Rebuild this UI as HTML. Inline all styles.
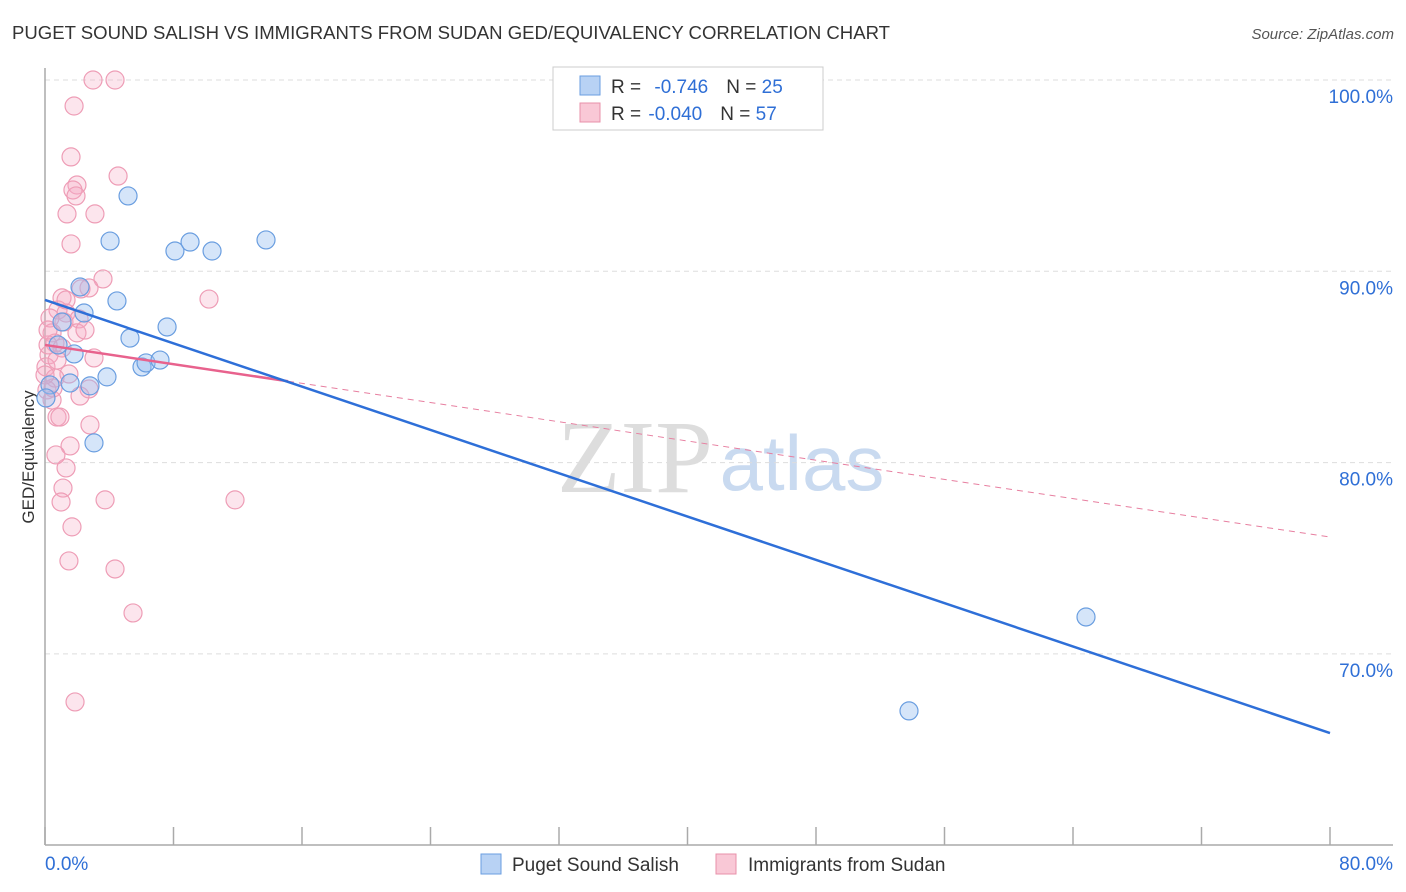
<!DOCTYPE html>
<html><head><meta charset="utf-8"><style>
body{margin:0;background:#fff;font-family:"Liberation Sans",sans-serif;}
#wrap{position:relative;width:1406px;height:892px;overflow:hidden;}
</style></head><body>
<div id="wrap">
<svg id="svg" width="1406" height="892" xmlns="http://www.w3.org/2000/svg">
<text x="12" y="39" font-size="18" fill="#333" textLength="878" lengthAdjust="spacingAndGlyphs">PUGET SOUND SALISH VS IMMIGRANTS FROM SUDAN GED/EQUIVALENCY CORRELATION CHART</text>
<text x="1394" y="39" font-size="15" fill="#555" font-style="italic" text-anchor="end">Source: ZipAtlas.com</text>
<text x="635" y="492" font-size="104" fill="#ddd" font-family="Liberation Serif" text-anchor="middle">ZIP</text>
<text x="802" y="490" font-size="78" fill="#c9daf0" text-anchor="middle">atlas</text>
<text transform="translate(34,457) rotate(-90)" font-size="17" fill="#333" text-anchor="middle">GED/Equivalency</text>
<g id="grid"></g><g id="axes"></g><g id="marks"></g>
<g>
<rect x="553" y="67" width="270" height="63" fill="#fff" stroke="#ccc"/>
<rect x="580" y="76" width="20" height="19" fill="#b8d2f4" stroke="#6a9ee0"/>
<text x="611" y="93" font-size="19" fill="#333">R = <tspan fill="#2f6fd6" dx="8">-0.746</tspan><tspan dx="18" fill="#333">N = </tspan><tspan fill="#2f6fd6">25</tspan></text>
<rect x="580" y="103" width="20" height="19" fill="#f9c8d6" stroke="#e890aa"/>
<text x="611" y="120" font-size="19" fill="#333">R = <tspan fill="#2f6fd6" dx="2">-0.040</tspan><tspan dx="18" fill="#333">N = </tspan><tspan fill="#2f6fd6">57</tspan></text>
</g>
<g>
<rect x="481" y="854" width="20" height="20" fill="#b8d2f4" stroke="#6a9ee0"/>
<text x="512" y="871" font-size="19" fill="#333">Puget Sound Salish</text>
<rect x="716" y="854" width="20" height="20" fill="#f9c8d6" stroke="#e890aa"/>
<text x="748" y="871" font-size="19" fill="#333">Immigrants from Sudan</text>
</g>
</svg>
</div>
<script>
const blueX=[5.17,4.05,8.09,9.03,10.40,13.76,2.18,4.48,2.43,7.60,5.29,0.81,1.81,6.04,6.29,7.16,3.86,1.56,2.80,3.05,64.81,53.79,0.31,0.06,1.06];
const blueY=[93.94,91.58,91.06,91.53,91.06,91.64,89.18,88.45,87.82,87.09,86.51,86.15,85.68,85.00,85.21,85.36,84.48,84.16,84.01,81.03,71.93,67.02,84.06,83.38,87.35];
const pinkX=[2.99,4.36,1.81,1.62,4.55,1.99,1.74,1.93,1.37,3.11,1.62,3.61,2.74,2.24,10.21,1.06,0.81,1.31,1.18,0.31,2.12,1.99,0.44,0.62,0.25,0.06,3.05,1.49,0.62,0.12,2.74,2.18,0.44,0.75,0.93,2.80,1.56,1.31,0.68,1.12,3.74,11.83,1.00,1.68,1.49,4.36,5.48,1.87,0.19,0.50,2.49,1.06,0.19,0.75,1.31,0];
const pinkY=[100,100,98.64,95.98,94.98,94.51,94.25,93.94,93.00,93.00,91.43,89.60,89.13,89.08,88.55,88.61,87.98,87.82,87.35,87.56,87.51,86.78,86.78,86.25,85.63,85.00,85.47,84.63,84.42,83.80,83.85,83.48,83.27,82.38,82.38,81.97,80.87,79.72,80.40,78.67,78.05,78.05,77.94,76.64,74.86,74.44,72.14,67.49,86.15,83.90,86.93,85.99,86.93,85.36,88.50,84.58];
const yTicks=[100,90,80,70];
const xTickLabels=["0.0%","80.0%"];
const blueTrend=[88.50,65.86];
const pinkTrend=[86.15,76.11];
const pinkSolidEnd=15.13;

const X=v=>45+v/80*1285;
const Y=v=>80+(100-v)*19.13;
const NS="http://www.w3.org/2000/svg";
function mk(tag,attrs,parent){const e=document.createElementNS(NS,tag);for(const k in attrs)e.setAttribute(k,attrs[k]);parent.appendChild(e);return e;}
const grid=document.getElementById('grid'),axes=document.getElementById('axes'),marks=document.getElementById('marks');
yTicks.forEach(t=>{
  const l=mk('line',{x1:45,x2:1393,y1:Y(t),y2:Y(t),stroke:'#ddd','stroke-dasharray':'5,4'},grid);
  
  
  const tx=mk('text',{x:1393,y:Y(t)+23,'font-size':19,fill:'#2f6fd6','text-anchor':'end'},grid);
  tx.textContent=t.toFixed(1)+'%';
  
  
});
const ya=mk('line',{x1:45,x2:45,y1:68,y2:845,stroke:'#aaa','stroke-width':1.5},axes);


const xa=mk('line',{x1:45,x2:1393,y1:845,y2:845,stroke:'#aaa','stroke-width':1.5},axes);


for(let i=0;i<=10;i++){
  const t=mk('line',{x1:X(i*8),x2:X(i*8),y1:827,y2:845,stroke:'#aaa','stroke-width':1.5},axes);
  
  
}
[[0,'start',45],[80,'end',1393]].forEach((a,i)=>{
  const t=mk('text',{x:a[2],y:870,'font-size':19,fill:'#2f6fd6','text-anchor':a[1]},axes);
  t.textContent=xTickLabels[i];
  
  
});
for(let i=0;i<pinkX.length;i++){
  const c=mk('circle',{cx:X(pinkX[i]),cy:Y(pinkY[i]),r:9,fill:'rgba(245,170,195,0.3)',stroke:'#ee9db6','stroke-width':1.2},marks);
  
  
}
for(let i=0;i<blueX.length;i++){
  const c=mk('circle',{cx:X(blueX[i]),cy:Y(blueY[i]),r:9,fill:'rgba(150,190,240,0.4)',stroke:'#6a9ee0','stroke-width':1.2},marks);
  
  
}
const pv=x=>pinkTrend[0]+(pinkTrend[1]-pinkTrend[0])*x/80;
const pd=mk('line',{x1:X(pinkSolidEnd),y1:Y(pv(pinkSolidEnd)),x2:X(80),y2:Y(pinkTrend[1]),stroke:'#e77fa0','stroke-width':1,'stroke-dasharray':'6,5'},marks);


const ps=mk('line',{x1:X(0),y1:Y(pinkTrend[0]),x2:X(pinkSolidEnd),y2:Y(pv(pinkSolidEnd)),stroke:'#e8628d','stroke-width':2.5},marks);


const bl=mk('line',{x1:X(0),y1:Y(blueTrend[0]),x2:X(80),y2:Y(blueTrend[1]),stroke:'#2e6fd8','stroke-width':2.5},marks);


</script>
</body></html>
